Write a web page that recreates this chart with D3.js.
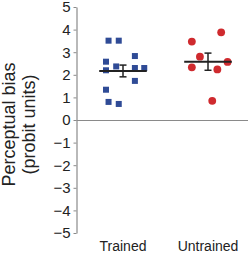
<!DOCTYPE html>
<html>
<head>
<meta charset="utf-8">
<script src="https://cdn.jsdelivr.net/npm/d3@7"></script>
<style>
  body { margin: 0; background: #fff; }
  svg { display: block; font-family: "Liberation Sans", Arial, sans-serif; }
</style>
</head>
<body>
<svg width="248" height="253"></svg>
<script>
// groups and values
const groups = ["Trained", "Untrained"];
const trainedBias = [3.51, 3.51, 2.58, 2.37, 2.83, 2.20, 2.30, 2.30, 1.73, 1.34, 0.80, 0.71];
const trainedJitter = [-0.17, -0.05, -0.20, -0.08, 0.14, -0.20, 0.14, 0.25, 0.14, -0.20, -0.17, -0.05];
const untrainedBias = [3.47, 3.88, 2.80, 2.33, 2.57, 2.24, 0.85];
const untrainedJitter = [-0.19, 0.155, -0.095, -0.19, 0.23, 0.11, 0.05];
const groupMeans = [2.17, 2.58];
const groupSem = [0.26, 0.38];
const yTicks = [-5, -4, -3, -2, -1, 0, 1, 2, 3, 4, 5];

const svg = d3.select("svg");
const axisX = 76.5;

const y = d3.scaleLinear().domain([-5, 5]).range([233, 7]);
const x = d3.scaleLinear().domain([0, 1]).range([123, 208]);

// zero line
svg.append("line")
   .attr("x1", axisX).attr("x2", 248)
   .attr("y1", y(0) + 0.5).attr("y2", y(0) + 0.5)
   .attr("stroke", "#8a8a8a").attr("stroke-width", 1.2);

// y axis
const gy = svg.append("g")
   .attr("transform", "translate(" + axisX + ",0)")
   .call(d3.axisLeft(y).tickValues(yTicks).tickSize(3).tickSizeOuter(0).tickPadding(3));
gy.select(".domain").attr("stroke", "#8a8a8a").attr("stroke-width", 1.2);
gy.selectAll(".tick line").attr("stroke", "#8a8a8a");
gy.selectAll(".tick text")
  .attr("font-size", 15).attr("fill", "#222")
  .attr("font-family", "Liberation Sans, Arial, sans-serif");

// y label
const lab = svg.append("text")
   .attr("transform", "translate(0," + 124.5 + ") rotate(-90)")
   .attr("text-anchor", "middle")
   .attr("font-size", 18).attr("fill", "#222");
lab.append("tspan").attr("x", 0).attr("y", 15).text("Perceptual bias");
lab.append("tspan").attr("x", 0).attr("y", 35).text("(probit units)");

// group labels
svg.selectAll(".glab")
   .data(groups)
   .enter().append("text")
   .attr("class", "glab")
   .attr("x", (d, i) => x(i))
   .attr("y", 251)
   .attr("text-anchor", "middle")
   .attr("font-size", 14).attr("fill", "#222")
   .text(d => d);

// trained squares
const sq = 6;
svg.selectAll(".sq")
   .data(trainedBias)
   .enter().append("rect")
   .attr("class", "sq")
   .attr("x", (d, i) => x(0 + trainedJitter[i]) - sq / 2)
   .attr("y", d => y(d) - sq / 2)
   .attr("width", sq).attr("height", sq)
   .attr("fill", "#2f4b96");

// untrained circles
svg.selectAll(".dot")
   .data(untrainedBias)
   .enter().append("circle")
   .attr("class", "dot")
   .attr("cx", (d, i) => x(1 + untrainedJitter[i]))
   .attr("cy", d => y(d))
   .attr("r", 3.9)
   .attr("fill", "#cf2a2e");

// means and error bars
const halfW = 0.28;
const cap = 3.5;
groupMeans.forEach(function(m, i) {
    const g = svg.append("g").attr("stroke", "#222");
    g.append("line")
     .attr("x1", x(i - halfW)).attr("x2", x(i + halfW))
     .attr("y1", y(m)).attr("y2", y(m))
     .attr("stroke-width", 2);
    g.append("line")
     .attr("x1", x(i)).attr("x2", x(i))
     .attr("y1", y(m - groupSem[i])).attr("y2", y(m + groupSem[i]))
     .attr("stroke-width", 1.5);
    [m - groupSem[i], m + groupSem[i]].forEach(function(v) {
        g.append("line")
         .attr("x1", x(i) - cap).attr("x2", x(i) + cap)
         .attr("y1", y(v)).attr("y2", y(v))
         .attr("stroke-width", 1.5);
    });
});
</script>
</body>
</html>
